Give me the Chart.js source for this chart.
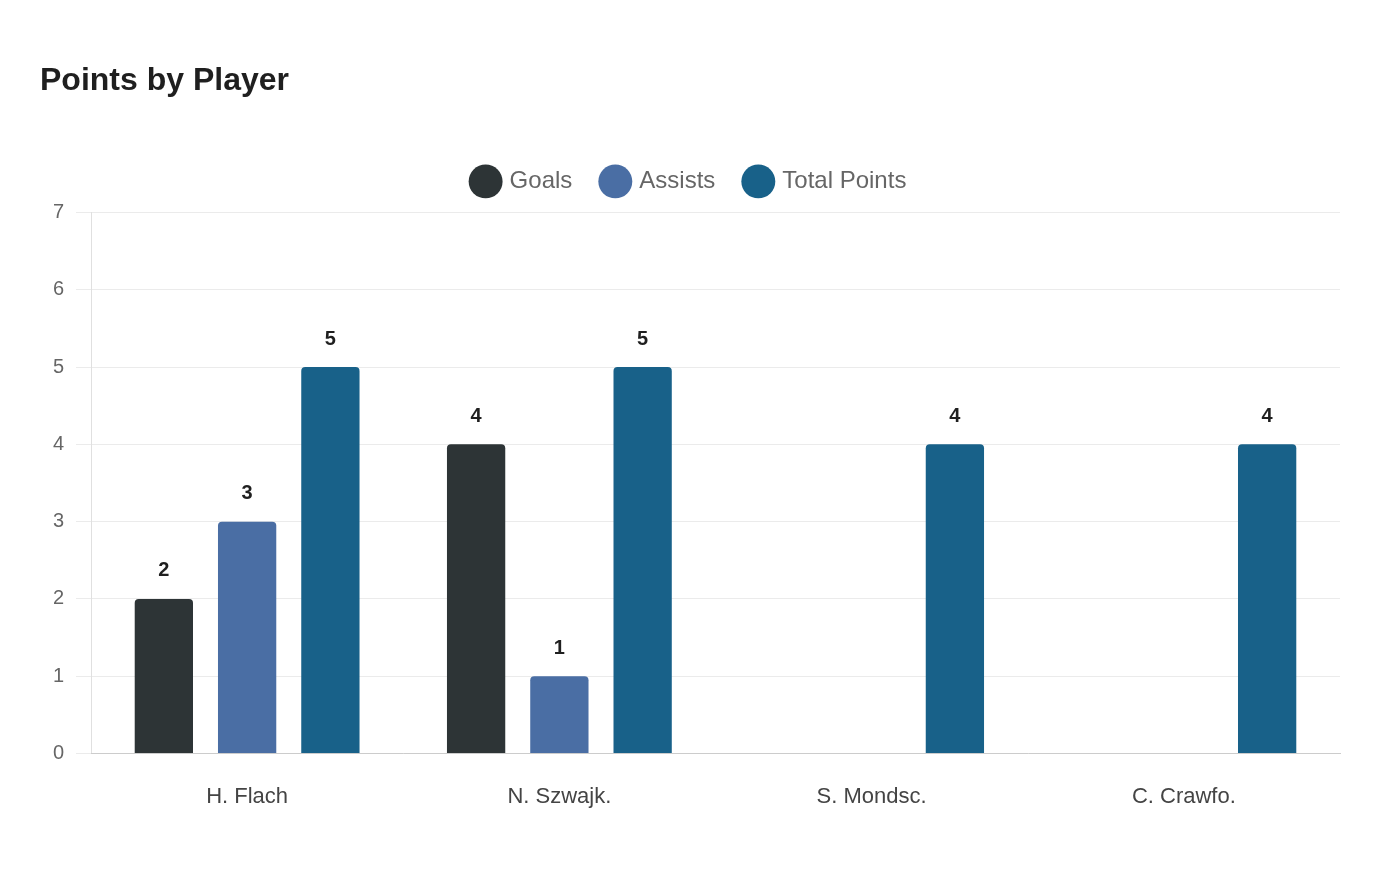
<!DOCTYPE html>
<html>
<head>
<meta charset="utf-8">
<script src="https://cdn.jsdelivr.net/npm/chart.js@4"></script>
<style>
  html, body { margin: 0; padding: 0; background: #fff; }
  #wrap { width: 1400px; height: 880px; }
</style>
</head>
<body>
<div id="wrap"><canvas id="myChart"></canvas></div>
<script>
const players = ['H. Flach', 'N. Szwajk.', 'S. Mondsc.', 'C. Crawfo.'];
const goals = [2, 4, 0, 0];
const assists = [3, 1, 0, 0];
const totalPoints = [5, 5, 4, 4];
const yTicks = [0, 1, 2, 3, 4, 5, 6, 7];

// draw value above every non-zero bar
const valueLabels = {
    id: 'valueLabels',
    afterDatasetsDraw(chart) {
        const ctx = chart.ctx;
        ctx.save();
        ctx.font = 'bold 20px "Liberation Sans", Arial, sans-serif';
        ctx.fillStyle = '#1f1f1f';
        ctx.textAlign = 'center';
        ctx.textBaseline = 'middle';
        chart.data.datasets.forEach((ds, i) => {
            chart.getDatasetMeta(i).data.forEach((bar, j) => {
                const v = ds.data[j];
                if (!v) return;
                ctx.fillText(String(v), bar.x, bar.y - 28);
            });
        });
        ctx.restore();
    }
};

// a bit more room under the legend
const legendGap = {
    id: 'legendGap',
    beforeInit(chart) {
        const fit = chart.legend.fit;
        chart.legend.fit = function() {
            fit.bind(chart.legend)();
            this.height += 9;
        };
    }
};

document.addEventListener('DOMContentLoaded', function() {
    const data = {
        labels: players,
        datasets: [
            { label: 'Goals', data: goals, backgroundColor: '#2d3436' },
            { label: 'Assists', data: assists, backgroundColor: '#4a6ea4' },
            { label: 'Total Points', data: totalPoints, backgroundColor: '#186189' }
        ]
    };
    data.datasets.forEach(ds => {
        ds.borderRadius = { topLeft: 4, topRight: 4 };
        ds.borderSkipped = 'bottom';
        ds.categoryPercentage = 0.8;
        ds.barPercentage = 0.7;
    });

    const options = {
        responsive: true,
        maintainAspectRatio: false,
        animation: false,
        layout: { padding: { left: 40, right: 60, top: 0, bottom: 48 } },
        font: { family: '"Liberation Sans", Arial, sans-serif' },
        plugins: {
            title: {
                display: true,
                text: 'Points by Player',
                align: 'start',
                color: '#1f1f1f',
                font: { size: 32, weight: 'bold' },
                padding: { top: 62, bottom: 38 }
            },
            legend: {
                position: 'top',
                labels: {
                    usePointStyle: true,
                    pointStyle: 'circle',
                    color: '#666',
                    padding: 31,
                    font: { size: 24 }
                }
            },
            tooltip: { enabled: false }
        },
        scales: {
            y: {
                min: 0,
                max: 7,
                afterBuildTicks: s => { s.ticks = yTicks.map(v => ({ value: v })); },
                afterFit: s => { s.width = 51; },
                grid: { color: '#ebebeb', tickLength: 15 },
                border: { color: '#e0e0e0' },
                ticks: { color: '#666', padding: 12, font: { size: 20 } }
            },
            x: {
                grid: { display: false },
                border: { color: '#cccccc' },
                ticks: { color: '#444', padding: 22, font: { size: 22 } }
            }
        }
    };

    const ctx = document.getElementById('myChart').getContext('2d');
    new Chart(ctx, {
        type: 'bar',
        data: data,
        options: options,
        plugins: [legendGap, valueLabels]
    });
});
</script>
</body>
</html>
